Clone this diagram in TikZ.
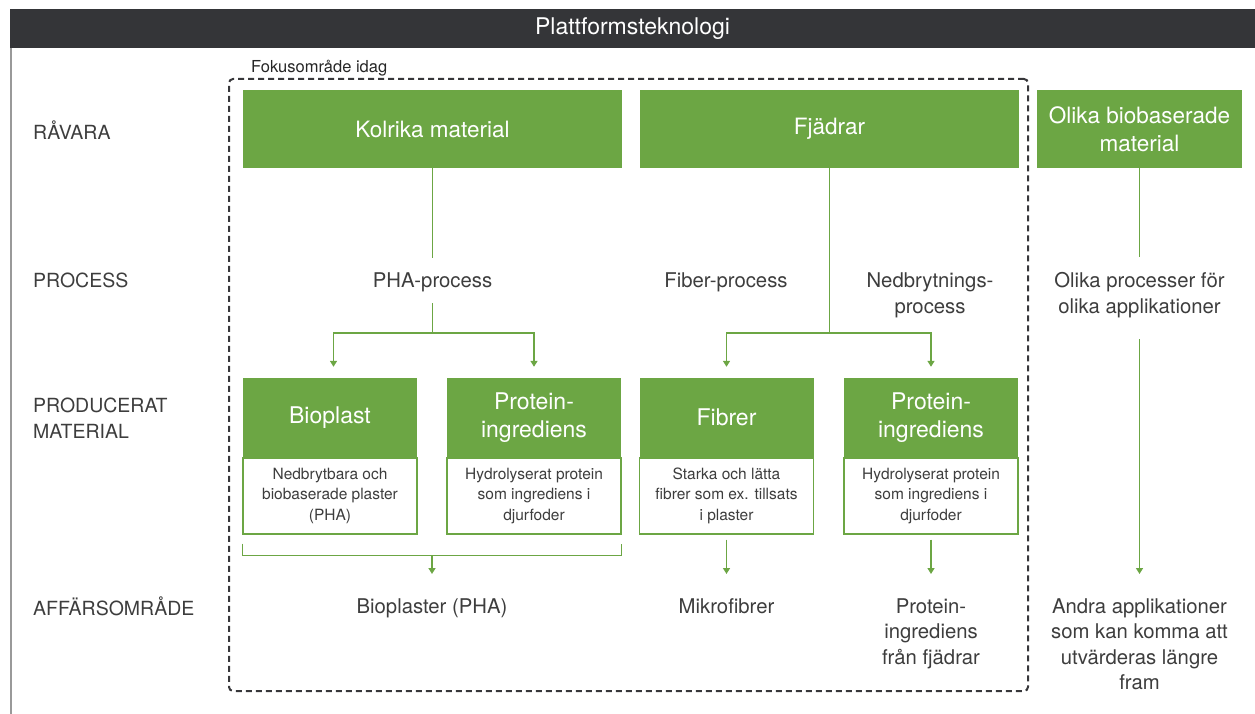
\documentclass[tikz,border=0pt]{standalone}
\usepackage{fontspec}
\setmainfont{TeX Gyre Heros}
\usetikzlibrary{arrows.meta,calc}
\definecolor{grn}{RGB}{108,166,68}
\definecolor{txt}{RGB}{61,61,61}
\definecolor{bar}{RGB}{52,53,56}
\definecolor{frame}{RGB}{55,55,58}
\newcommand\fsz[2]{\fontsize{#1}{#2}\selectfont}
\begin{document}
\begin{tikzpicture}[x=1pt,y=-1pt,
  greenbox/.style={fill=grn,text=white,inner sep=0pt,align=center,font=\fsz{22.5}{28}},
  prodbox/.style={fill=grn,text=white,inner sep=0pt,align=center,font=\fsz{23}{28},minimum width=174pt,minimum height=79pt},
  descbox/.style={draw=grn,line width=1.3pt,fill=white,inner sep=0pt,align=center,text=txt,font=\fsz{15.5}{20.5},minimum width=174pt,minimum height=76pt,anchor=north},
  proc/.style={inner sep=0pt,align=center,text=txt,font=\fsz{20.3}{26},minimum height=45pt},
  bottomtxt/.style={inner sep=0pt,align=center,text=txt,font=\fsz{20.3}{25.6},anchor=north},
  rowlbl/.style={inner sep=0pt,align=left,text=txt,font=\fsz{19.5}{26},anchor=west},
  conn/.style={draw=grn,line width=1.5pt},
  arr/.style={conn,-{Triangle[width=7pt,length=6pt]}}
]
\useasboundingbox (0,0) rectangle (1255,714);

% title bar
\node[fill=bar,minimum width=1245pt,minimum height=39pt,inner sep=0pt,text=white,font=\fsz{23}{27}] (title) at (632.5,28.5) {Plattformsteknologi};
\coordinate (bottomleft) at (11,714);
\draw[draw=black!40,line width=2pt] (title.south west -| bottomleft) -- (bottomleft);

% focus frame
\node[draw=frame,line width=2pt,dash pattern=on 6pt off 4pt,rounded corners=4pt,minimum width=799pt,minimum height=612pt,inner sep=0pt] (focus) at (628.5,385) {};
\node[anchor=base west,inner sep=0pt,text=black!85,font=\fsz{16.5}{20}] (focuslabel) at (251,73) {Fokusområde idag};

% row labels
\node[rowlbl] (r1) at (33,130) {RÅVARA};
\node[rowlbl] (r2) at (33,280) {PROCESS};
\node[rowlbl] (r3) at (33,418) {PRODUCERAT\\MATERIAL};
\node[rowlbl] (r4) at (33,606) {AFFÄRSOMRÅDE};

% raw materials
\node[greenbox,minimum width=379pt,minimum height=78pt] (kol) at (432.5,129) {Kolrika material};
\node[greenbox,minimum width=379pt,minimum height=78pt] (fja) at (829.5,129) {Fjädrar};
\node[greenbox,minimum width=205pt,minimum height=78pt] (oli) at (1139.5,129) {Olika biobaserade\\material};

% processes
\node[proc] (pha) at (432.5,282) {PHA-process};
\node[proc] (fibp) at (726,282) {Fiber-process};
\node[proc] (ned) at (930,295) {Nedbrytnings-\\process};
\node[proc] (olp) at (1139.5,295) {Olika processer för\\olika applikationer};

% products
\node[prodbox] (bio) at (330,417.5) {Bioplast};
\node[descbox] (biod) at (bio.south) {Nedbrytbara och\\biobaserade plaster\\(PHA)};
\node[prodbox] (pro1) at (534,417.5) {Protein-\\ingrediens};
\node[descbox] (pro1d) at (pro1.south) {Hydrolyserat protein\\som ingrediens i\\djurfoder};
\node[prodbox] (fibr) at (726.5,417.5) {Fibrer};
\node[descbox] (fibrd) at (fibr.south) {Starka och lätta\\fibrer som ex. tillsats\\i plaster};
\node[prodbox] (pro2) at (931,417.5) {Protein-\\ingrediens};
\node[descbox] (pro2d) at (pro2.south) {Hydrolyserat protein\\som ingrediens i\\djurfoder};

% business areas
\node[bottomtxt] (bpha) at (432,598) {Bioplaster (PHA)};
\node[bottomtxt] (mikro) at (726.5,598) {Mikrofibrer};
\node[bottomtxt] (bprot) at (931,598) {Protein-\\ingrediens\\från fjädrar};
\node[bottomtxt] (andra) at (1139.5,598) {Andra applikationer\\som kan komma att\\utvärderas längre\\fram};

% connectors: column 1
\coordinate (phain) at (432.5,257.5);
\coordinate (phaout) at (432.5,303);
\draw[conn] (kol.south) -- (phain);
\draw[conn] (phaout) -- (phaout |- 0,333) coordinate (phafork);
\draw[arr] (phafork) -| ([xshift=3.5pt,yshift=11pt]bio.north);
\draw[arr] (phafork) -| ([yshift=11pt]pro1.north);
\draw[conn] ([yshift=-9pt]biod.south west) -- ([yshift=-21pt]biod.south west) -- ([yshift=-21pt]pro1d.south east) -- ([yshift=-9pt]pro1d.south east);
\coordinate (brmid) at ($(biod.south west)!0.5!(pro1d.south east)+(0,21)$);
\draw[arr] (brmid) -- ([yshift=24pt]bpha.north);

% connectors: column 2
\draw[conn] (fja.south) -- ++(0,165) coordinate (fjafork);
\draw[arr] (fjafork) -| ([yshift=11pt]fibr.north);
\draw[arr] (fjafork) -| ([yshift=11pt]pro2.north);
\draw[arr] ([yshift=-5pt]fibrd.south) -- ([yshift=24pt]mikro.north);
\draw[arr] ([yshift=-5pt]pro2d.south) -- ([yshift=24pt]bprot.north);

% connectors: column 3
\coordinate (olpin) at (1139.5,257);
\coordinate (olpout) at (1139.5,339);
\draw[conn] (oli.south) -- (olpin);
\draw[arr] (olpout) -- ([yshift=24pt]andra.north);
\end{tikzpicture}
\end{document}
